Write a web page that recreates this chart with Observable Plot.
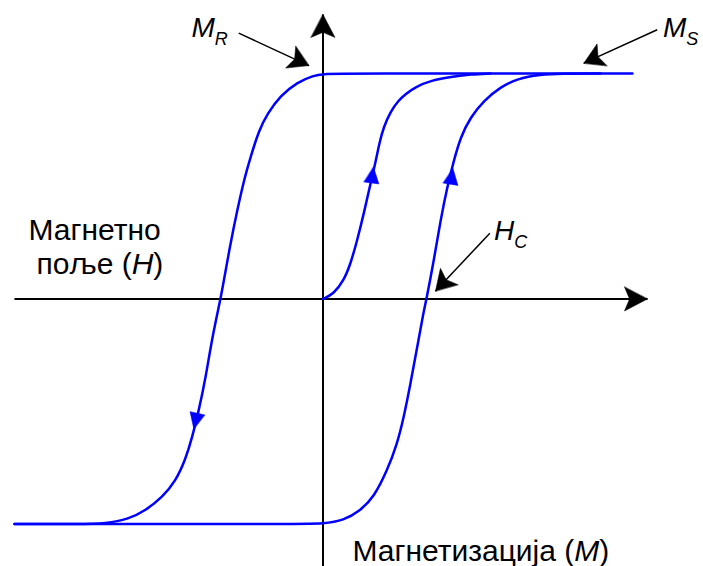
<!DOCTYPE html>
<html>
<head>
<meta charset="utf-8">
<script src="https://cdn.jsdelivr.net/npm/d3@7"></script>
<script src="https://cdn.jsdelivr.net/npm/@observablehq/plot@0.6"></script>
<style>
  html, body { margin: 0; padding: 0; background: #fff; }
  #chart svg { display: block; }
</style>
</head>
<body>
<div id="chart"></div>
<script>
// ---- Data (H in units of the coercive field Hc, M in units of saturation Ms) ----
// Descending branch: from +saturation back through remanence, down to -saturation
const descendingH = [2.990, 0.169, 0.005, -0.092, -0.249, -0.411, -0.539, -0.620, -0.700, -0.765, -0.829, -0.894, -0.958, -0.990, -1.071, -1.135, -1.200, -1.264, -1.329, -1.425, -1.554, -1.715, -1.876, -2.101, -2.343, -2.981];
const descendingM = [1.000, 1.000, 0.998, 0.991, 0.961, 0.902, 0.821, 0.747, 0.629, 0.525, 0.392, 0.246, 0.082, 0.000, -0.171, -0.353, -0.494, -0.614, -0.712, -0.809, -0.880, -0.938, -0.976, -0.996, -0.998, -0.998];
// Ascending branch: from -saturation up through Hc, to +saturation
const ascendingH = [-2.981, -0.217, 0.000, 0.201, 0.362, 0.491, 0.620, 0.717, 0.781, 0.845, 0.910, 0.974, 1.000, 1.071, 1.135, 1.200, 1.264, 1.329, 1.425, 1.554, 1.715, 1.876, 2.101, 2.295, 2.681];
const ascendingM = [-0.998, -0.998, -0.996, -0.982, -0.938, -0.879, -0.761, -0.642, -0.524, -0.376, -0.214, -0.051, 0.000, 0.171, 0.348, 0.496, 0.614, 0.718, 0.806, 0.880, 0.940, 0.977, 0.996, 1.000, 1.000];
// Initial magnetisation curve from the origin
const initialH = [0.000, 0.104, 0.201, 0.266, 0.330, 0.401, 0.459, 0.507, 0.546, 0.585, 0.652, 0.729, 0.797, 0.894, 1.039, 1.261, 1.425, 1.618];
const initialM = [0.000, 0.023, 0.082, 0.156, 0.259, 0.392, 0.512, 0.605, 0.694, 0.761, 0.831, 0.880, 0.909, 0.940, 0.969, 0.987, 0.996, 1.000];

// Direction arrows on the curves: [H, M] of the base and of the tip
const curveArrowBase = [[0.469, 0.518], [1.232, 0.508], [-1.215, -0.509]];
const curveArrowTip  = [[0.488, 0.585], [1.256, 0.579], [-1.248, -0.576]];

// Axes: start and tip
const axisStart = [[0, -1.186], [-2.981, 0]];
const axisTip   = [[0, 1.262], [3.135, 0]];

// Pointer arrows for M_R, M_S, H_C: start and tip
const pointerStart = [[-0.814, 1.179], [3.229, 1.194], [1.612, 0.292]];
const pointerTip   = [[-0.137, 1.035], [2.520, 1.046], [1.087, 0.035]];

// Text labels: each line is a run of segments; anchored at the start of the baseline
const lineSegments = [["Магнетно"], ["поље (", "H", ")"], ["Магнетизација (", "M", ")"], ["M", "R"], ["M", "S"], ["H", "C"]];
const lineItalic   = [[false], [false, true, false], [false, true, false], [true, true], [true, true], [true, true]];
const lineSubscript = [[false], [false, false, false], [false, false, false], [false, true], [false, true], [false, true]];
const lineH = [-2.845, -2.768, 0.285, -1.271, 3.285, 1.652];
const lineM = [0.262, 0.109, -1.162, 1.161, 1.161, 0.262];

// ---- Layout / scales ----
const W = 703, HGT = 566;
const originX = 322.5, originY = 298.5, pxPerH = 103.5, pxPerM = 225.5;
const xDomain = [-originX / pxPerH, (W - originX) / pxPerH];
const yDomain = [-(HGT - originY) / pxPerM, originY / pxPerM];
const BLUE = "#0000ff";
const FONT = "'Liberation Sans', Arial, Helvetica, sans-serif";
const MAIN_SIZE = 30, LETTER_SIZE = 28, SUB_SIZE = 18, SUB_SHIFT = 8;

const angle = (a, b) => Math.atan2((b[0] - a[0]) * pxPerH, (b[1] - a[1]) * pxPerM) * 180 / Math.PI;
const toRows = (H, M) => H.map((h, i) => ({h, m: M[i]}));
const segRows = (S, T) => S.map((s, i) => ({x1: s[0], y1: s[1], x2: T[i][0], y2: T[i][1], rot: angle(s, T[i])}));

const headShape = (notch) => ({
  draw(context, l, r) {
    context.moveTo(0, -l);
    context.lineTo(r, 0);
    context.lineTo(0, -l * notch);
    context.lineTo(-r, 0);
    context.closePath();
  }
});

const curveArrows = segRows(curveArrowBase, curveArrowTip);
const axes = segRows(axisStart, axisTip);
const pointers = segRows(pointerStart, pointerTip);

// Lay out text segments one after another (measured with the same font)
const ctx = document.createElement("canvas").getContext("2d");
const measure = (t, size, italic) => { ctx.font = `${italic ? "italic " : ""}${size}px ${FONT}`; return ctx.measureText(t).width; };
const textMarks = [];
lineSegments.forEach((segs, li) => {
  let offset = 0;
  segs.forEach((t, si) => {
    const italic = lineItalic[li][si];
    const sub = lineSubscript[li][si];
    const size = sub ? SUB_SIZE : (li >= 3 ? LETTER_SIZE : MAIN_SIZE);
    textMarks.push(Plot.text([{h: lineH[li], m: lineM[li], text: t}], {
      x: "h", y: "m", text: "text",
      dx: offset, dy: sub ? SUB_SHIFT : 0,
      textAnchor: "start", lineAnchor: "bottom",
      fontSize: size, fontStyle: italic ? "italic" : "normal",
      fontFamily: FONT, fill: "#000"
    }));
    offset += measure(t, size, italic);
  });
});

const marks = [
  Plot.link(axes, {x1: "x1", y1: "y1", x2: "x2", y2: "y2", stroke: "#000", strokeWidth: 2}),
  Plot.vector(axes, {x: "x2", y: "y2", rotate: "rot", length: 23, r: 12, anchor: "end", shape: headShape(0.22), fill: "#000", stroke: "#000", strokeWidth: 0.5}),
  Plot.line(toRows(descendingH, descendingM), {x: "h", y: "m", stroke: BLUE, strokeWidth: 2.5, curve: "basis"}),
  Plot.line(toRows(ascendingH, ascendingM), {x: "h", y: "m", stroke: BLUE, strokeWidth: 2.5, curve: "basis"}),
  Plot.line(toRows(initialH, initialM), {x: "h", y: "m", stroke: BLUE, strokeWidth: 2.5, curve: "basis"}),
  Plot.vector(curveArrows, {x: "x2", y: "y2", rotate: "rot", length: 16, r: 7.5, anchor: "end", shape: headShape(0), fill: BLUE, stroke: BLUE, strokeWidth: 0.5}),
  Plot.link(pointers, {x1: "x1", y1: "y1", x2: "x2", y2: "y2", stroke: "#000", strokeWidth: 1.5}),
  Plot.vector(pointers, {x: "x2", y: "y2", rotate: "rot", length: 20, r: 12, anchor: "end", shape: headShape(0.22), fill: "#000", stroke: "#000", strokeWidth: 0.5}),
  ...textMarks
];

const chart = Plot.plot({
  width: W,
  height: HGT,
  margin: 0,
  x: {domain: xDomain, axis: null},
  y: {domain: yDomain, axis: null},
  style: {background: "#fff", fontFamily: FONT, overflow: "visible"},
  marks
});
document.getElementById("chart").appendChild(chart);
</script>
</body>
</html>
